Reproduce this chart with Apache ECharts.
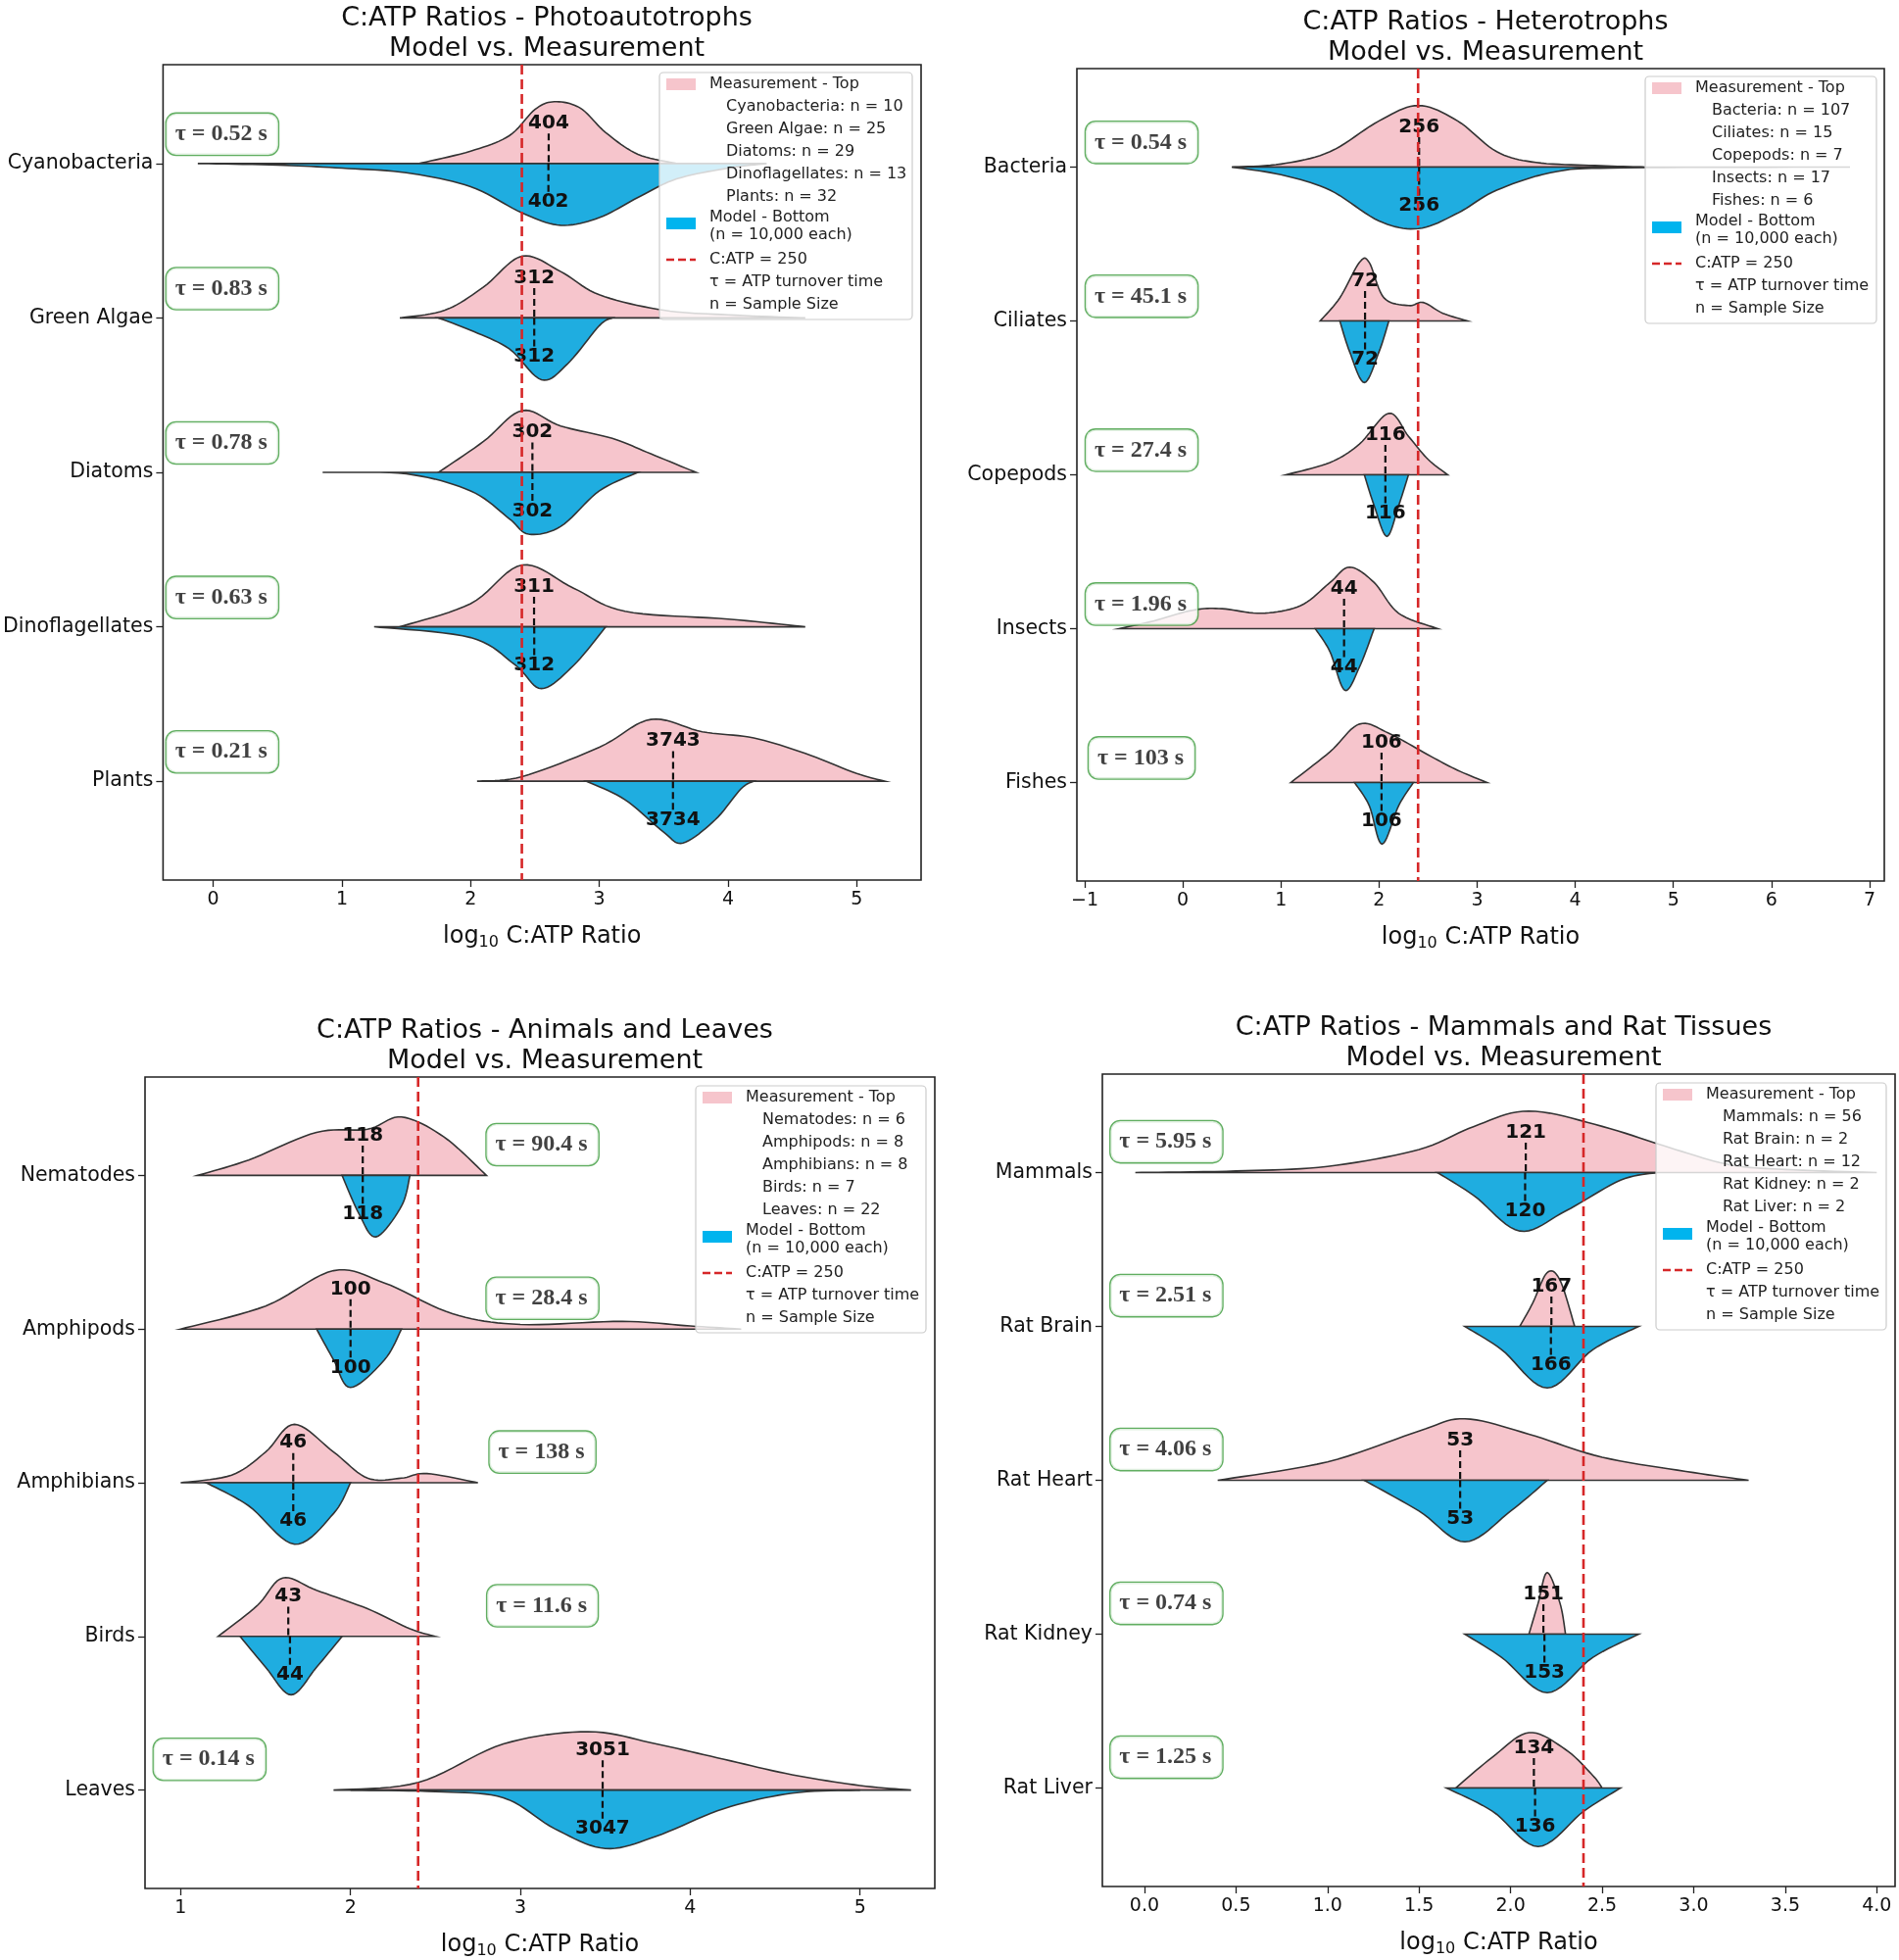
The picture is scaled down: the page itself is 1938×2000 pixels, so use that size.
<!DOCTYPE html>
<html><head><meta charset="utf-8">
<script src="https://cdn.jsdelivr.net/npm/echarts@6/dist/echarts.min.js"></script>
<style>html,body{margin:0;background:#fff}#c{width:1938px;height:2000px}</style>
</head><body><div id="c"></div>
<script>
// ---------- DATA ----------
const p1Cats = ['Cyanobacteria','Green Algae','Diatoms','Dinoflagellates','Plants'];
const p1Tau = ['0.52','0.83','0.78','0.63','0.21'];
const p1MedTop = [404,312,302,311,3743];
const p1MedBot = [402,312,302,312,3734];
const p1N = [10,25,29,13,32];
const p1Top = [
 [[1.6,0],[2.0,0.08],[2.3,0.18],[2.5,0.35],[2.65,0.40],[2.85,0.36],[3.05,0.2],[3.3,0.06],[3.6,0]],
 [[1.45,0],[1.8,0.05],[2.1,0.2],[2.4,0.4],[2.7,0.3],[3.0,0.15],[3.5,0.05],[4.0,0.02],[4.6,0]],
 [[1.75,0],[2.1,0.2],[2.4,0.4],[2.7,0.3],[3.1,0.22],[3.4,0.12],[3.75,0]],
 [[1.45,0],[2.0,0.15],[2.4,0.4],[2.8,0.25],[3.2,0.1],[4.0,0.05],[4.6,0]],
 [[2.05,0],[2.4,0.03],[3.0,0.22],[3.4,0.40],[3.8,0.32],[4.2,0.28],[4.6,0.18],[5.0,0.05],[5.22,0]]
];
const p1Bot = [
 [[-0.12,0],[0.5,0.01],[1.0,0.03],[1.5,0.06],[2.0,0.15],[2.4,0.32],[2.7,0.40],[3.0,0.35],[3.3,0.22],[3.6,0.1],[4.0,0.03],[4.3,0]],
 [[1.75,0],[2.0,0.08],[2.3,0.2],[2.55,0.4],[2.75,0.3],[3.0,0.05],[3.1,0]],
 [[0.85,0],[1.5,0.01],[2.0,0.12],[2.3,0.3],[2.45,0.4],[2.7,0.35],[3.0,0.12],[3.3,0]],
 [[1.25,0],[2.0,0.07],[2.35,0.25],[2.55,0.4],[2.8,0.25],[3.05,0]],
 [[2.9,0],[3.2,0.12],[3.5,0.33],[3.65,0.40],[3.9,0.25],[4.1,0.05],[4.2,0]]
];
const p2Cats = ['Bacteria','Ciliates','Copepods','Insects','Fishes'];
const p2Tau = ['0.54','45.1','27.4','1.96','103'];
const p2MedTop = [256,72,116,44,106];
const p2MedBot = [256,72,116,44,106];
const p2N = [107,15,7,17,6];
const p2Top = [
 [[0.5,0],[1.0,0.02],[1.5,0.1],[2.0,0.3],[2.4,0.4],[2.8,0.3],[3.2,0.1],[3.6,0.03],[4.2,0.01],[4.7,0]],
 [[1.4,0],[1.6,0.15],[1.8,0.38],[1.9,0.38],[2.05,0.15],[2.3,0.1],[2.45,0.12],[2.65,0.05],[2.9,0]],
 [[1.05,0],[1.5,0.08],[1.8,0.2],[2.1,0.4],[2.3,0.25],[2.5,0.1],[2.7,0]],
 [[-0.65,0],[-0.3,0.05],[0.1,0.12],[0.4,0.13],[0.8,0.1],[1.2,0.15],[1.5,0.3],[1.7,0.4],[1.95,0.3],[2.2,0.1],[2.6,0]],
 [[1.1,0],[1.5,0.2],[1.8,0.38],[2.1,0.32],[2.5,0.18],[2.8,0.08],[3.1,0]]
];
const p2Bot = [
 [[0.5,0],[1.0,0.05],[1.5,0.15],[2.0,0.35],[2.4,0.4],[2.8,0.3],[3.2,0.15],[3.8,0.03],[4.5,0.005],[6.8,0]],
 [[1.6,0],[1.7,0.2],[1.85,0.4],[2.0,0.2],[2.1,0]],
 [[1.85,0],[1.95,0.2],[2.08,0.4],[2.2,0.2],[2.3,0]],
 [[1.35,0],[1.5,0.15],[1.65,0.4],[1.8,0.25],[1.95,0]],
 [[1.75,0],[1.9,0.15],[2.03,0.4],[2.2,0.15],[2.35,0]]
];
const p3Cats = ['Nematodes','Amphipods','Amphibians','Birds','Leaves'];
const p3Tau = ['90.4','28.4','138','11.6','0.14'];
const p3MedTop = [118,100,46,43,3051];
const p3MedBot = [118,100,46,44,3047];
const p3N = [6,8,8,7,22];
const p3Top = [
 [[1.1,0],[1.4,0.1],[1.8,0.28],[2.1,0.3],[2.3,0.38],[2.55,0.25],[2.8,0]],
 [[1.0,0],[1.5,0.15],[1.9,0.38],[2.2,0.3],[2.6,0.1],[3.0,0.03],[3.6,0.05],[4.0,0.02],[4.3,0]],
 [[1.0,0],[1.3,0.05],[1.5,0.2],[1.67,0.38],[1.9,0.2],[2.1,0.03],[2.3,0.03],[2.45,0.06],[2.75,0]],
 [[1.22,0],[1.45,0.2],[1.6,0.38],[1.8,0.3],[2.1,0.18],[2.35,0.05],[2.5,0]],
 [[1.9,0],[2.4,0.05],[2.9,0.3],[3.4,0.38],[3.8,0.3],[4.2,0.2],[4.6,0.1],[5.0,0.03],[5.3,0]]
];
const p3Bot = [
 [[1.95,0],[2.05,0.25],[2.15,0.4],[2.3,0.2],[2.35,0]],
 [[1.8,0],[1.9,0.2],[2.0,0.38],[2.2,0.2],[2.3,0]],
 [[1.15,0],[1.4,0.15],[1.67,0.4],[1.9,0.2],[2.0,0]],
 [[1.35,0],[1.5,0.2],[1.65,0.38],[1.8,0.2],[1.95,0]],
 [[2.0,0],[2.5,0.01],[2.9,0.05],[3.2,0.25],[3.5,0.38],[3.8,0.3],[4.2,0.12],[4.6,0.02],[5.0,0]]
];
const p4Cats = ['Mammals','Rat Brain','Rat Heart','Rat Kidney','Rat Liver'];
const p4Tau = ['5.95','2.51','4.06','0.74','1.25'];
const p4MedTop = [121,167,53,151,134];
const p4MedBot = [120,166,53,153,136];
const p4N = [56,2,12,2,2];
const p4Top = [
 [[-0.05,0],[0.5,0.01],[1.0,0.04],[1.5,0.15],[1.8,0.3],[2.1,0.4],[2.5,0.3],[2.9,0.15],[3.2,0.05],[3.5,0.02],[4.0,0]],
 [[2.05,0],[2.12,0.15],[2.2,0.35],[2.27,0.3],[2.35,0]],
 [[0.4,0],[1.0,0.12],[1.5,0.32],[1.75,0.4],[2.1,0.3],[2.5,0.15],[3.0,0.05],[3.3,0]],
 [[2.1,0],[2.15,0.2],[2.2,0.4],[2.27,0.2],[2.3,0]],
 [[1.7,0],[1.9,0.2],[2.1,0.36],[2.3,0.25],[2.45,0.08],[2.5,0]]
];
const p4Bot = [
 [[1.6,0],[1.8,0.15],[2.05,0.38],[2.3,0.25],[2.6,0.05],[2.8,0]],
 [[1.75,0],[1.95,0.15],[2.2,0.4],[2.45,0.15],[2.7,0]],
 [[1.2,0],[1.5,0.2],[1.75,0.4],[2.0,0.2],[2.2,0]],
 [[1.75,0],[1.95,0.15],[2.2,0.38],[2.45,0.15],[2.7,0]],
 [[1.65,0],[1.9,0.15],[2.15,0.38],[2.4,0.15],[2.6,0]]
];
const refRatio = 250;

// ---------- LAYOUT ----------
const panels = [
 {title:'C:ATP Ratios - Photoautotrophs\nModel vs. Measurement', cats:p1Cats,tau:p1Tau,mt:p1MedTop,mb:p1MedBot,n:p1N,top:p1Top,bot:p1Bot,
  grid:{left:166,top:66,width:774,height:832}, xmin:-0.39,xmax:5.5, ticks:[0,1,2,3,4,5], dec:0, tauX:[0.07,0.07,0.07,0.07,0.07], tauDy:-0.19, leg:{x:673,y:74}},
 {title:'C:ATP Ratios - Heterotrophs\nModel vs. Measurement', cats:p2Cats,tau:p2Tau,mt:p2MedTop,mb:p2MedBot,n:p2N,top:p2Top,bot:p2Bot,
  grid:{left:1099,top:70,width:824,height:829}, xmin:-1.08,xmax:7.15, ticks:[-1,0,1,2,3,4,5,6,7], dec:0, tauX:[-0.42,-0.42,-0.42,-0.42,-0.42], tauDy:-0.16, leg:{x:1679,y:78}},
 {title:'C:ATP Ratios - Animals and Leaves\nModel vs. Measurement', cats:p3Cats,tau:p3Tau,mt:p3MedTop,mb:p3MedBot,n:p3N,top:p3Top,bot:p3Bot,
  grid:{left:148,top:1099,width:806,height:830}, xmin:0.79,xmax:5.44, ticks:[1,2,3,4,5], dec:0, tauX:[3.13,3.13,3.13,3.13,1.17], tauDy:-0.2, leg:{x:710,y:1108}},
 {title:'C:ATP Ratios - Mammals and Rat Tissues\nModel vs. Measurement', cats:p4Cats,tau:p4Tau,mt:p4MedTop,mb:p4MedBot,n:p4N,top:p4Top,bot:p4Bot,
  grid:{left:1125,top:1096,width:809,height:829}, xmin:-0.23,xmax:4.1, ticks:[0,0.5,1,1.5,2,2.5,3,3.5,4], dec:1, tauX:[0.12,0.12,0.12,0.12,0.12], tauDy:-0.2, leg:{x:1690,y:1105}}
];
const PINK='#f6c5cc', BLUE='#1fade0', EDGE='#333';
const YMIN=-0.64, YMAX=4.64;

function spline(pts){
  const out=[];
  for(let i=0;i<pts.length-1;i++){
    const p0=pts[Math.max(0,i-1)],p1=pts[i],p2=pts[i+1],p3=pts[Math.min(pts.length-1,i+2)];
    for(let t=0;t<1;t+=0.1){
      const t2=t*t,t3=t2*t;
      const f=(a,b,c,d)=>0.5*((2*b)+(-a+c)*t+(2*a-5*b+4*c-d)*t2+(-a+3*b-3*c+d)*t3);
      out.push([f(p0[0],p1[0],p2[0],p3[0]), Math.max(0,f(p0[1],p1[1],p2[1],p3[1]))]);
    }
  }
  out.push(pts[pts.length-1]);
  return out;
}

const option={animation:false,title:[],grid:[],xAxis:[],yAxis:[],series:[],graphic:[]};
panels.forEach((P,k)=>{
  const g=P.grid;
  option.title.push({text:P.title,left:g.left+g.width/2,top:g.top-68,textAlign:'center',
    textStyle:{fontFamily:'DejaVu Sans',fontWeight:'normal',fontSize:27,lineHeight:31,color:'#111'}});
  option.grid.push({left:g.left,top:g.top,width:g.width,height:g.height,show:true,borderColor:'#222',borderWidth:1.6,backgroundColor:'#fff'});
  option.xAxis.push({type:'value',gridIndex:k,min:P.xmin,max:P.xmax,position:'bottom',
    name:'{a|log}{s|10}{a| C:ATP Ratio}',nameLocation:'middle',nameGap:44,
    nameTextStyle:{rich:{a:{fontFamily:'DejaVu Sans',fontSize:24,color:'#111'},s:{fontFamily:'DejaVu Sans',fontSize:16,color:'#111',verticalAlign:'bottom',padding:[12,0,0,0]}}},
    splitLine:{show:false},axisLine:{show:false,onZero:false},
    axisTick:{show:true,customValues:P.ticks,length:7,lineStyle:{color:'#222',width:1.3}},
    axisLabel:{customValues:P.ticks,fontFamily:'DejaVu Sans',fontSize:19,color:'#111',margin:11,
      formatter:v=>(v<0?'\u2212':'')+Math.abs(v).toFixed(P.dec)}});
  option.yAxis.push({type:'value',gridIndex:k,min:YMIN,max:YMAX,inverse:true,position:'left',
    splitLine:{show:false},axisLine:{show:false,onZero:false},
    axisTick:{show:true,customValues:[0,1,2,3,4],length:7,lineStyle:{color:'#222',width:1.3}},
    axisLabel:{customValues:[0,1,2,3,4],fontFamily:'DejaVu Sans',fontSize:20.5,color:'#111',margin:10,
      formatter:v=>P.cats[Math.round(v)]}});
  option.series.push({type:'custom',xAxisIndex:k,yAxisIndex:k,z:3,data:P.cats.map((c,i)=>[i]),
    renderItem:(params,api)=>{
      const i=api.value(0);
      const topPts=spline(P.top[i]).map(p=>api.coord([p[0],i-p[1]]));
      const botPts=spline(P.bot[i]).map(p=>api.coord([p[0],i+p[1]]));
      const mt=Math.log10(P.mt[i]), mb=Math.log10(P.mb[i]);
      const a=api.coord([mt,i-0.27]), b=api.coord([mt,i]), c=api.coord([mb,i]), d=api.coord([mb,i+0.27]);
      const lt=api.coord([mt,i-0.26]), lb=api.coord([mb,i+0.25]);
      return {type:'group',children:[
        {type:'polygon',shape:{points:topPts},style:{fill:PINK,stroke:EDGE,lineWidth:1.6}},
        {type:'polygon',shape:{points:botPts},style:{fill:BLUE,stroke:EDGE,lineWidth:1.6}},
        {type:'line',shape:{x1:a[0],y1:a[1]+12,x2:b[0],y2:b[1]},style:{stroke:'#111',lineWidth:2.2,lineDash:[7,4]}},
        {type:'line',shape:{x1:c[0],y1:c[1],x2:d[0],y2:d[1]-12},style:{stroke:'#111',lineWidth:2.2,lineDash:[7,4]}},
        {type:'text',x:lt[0],y:lt[1],style:{text:String(P.mt[i]),fontFamily:'DejaVu Sans',fontWeight:'bold',fontSize:20,fill:'#111',align:'center',verticalAlign:'middle'}},
        {type:'text',x:lb[0],y:lb[1],style:{text:String(P.mb[i]),fontFamily:'DejaVu Sans',fontWeight:'bold',fontSize:20,fill:'#111',align:'center',verticalAlign:'middle'}}
      ]};
    }});
  option.series.push({type:'line',xAxisIndex:k,yAxisIndex:k,z:4,symbol:'none',
    data:[[Math.log10(refRatio),YMIN],[Math.log10(refRatio),YMAX]],lineStyle:{color:'#d62728',width:2.6,type:[10,5]}});
  option.series.push({type:'scatter',xAxisIndex:k,yAxisIndex:k,z:6,symbolSize:1,itemStyle:{color:'rgba(0,0,0,0)'},
    data:P.tau.map((t,i)=>({value:[P.tauX[i],i+P.tauDy],name:t})),
    label:{show:true,position:'inside',formatter:p=>'\u03c4 = '+p.name+' s',fontFamily:'Liberation Serif',fontWeight:'bold',fontSize:24,color:'#111',
      backgroundColor:'#fff',borderColor:'#3a9a3a',borderWidth:1.3,borderRadius:10,padding:[10,11,8,9]}});
  const L=P.leg, lh=23, items=[];
  let y=L.y+12;
  const T=(tx,x,yy)=>({type:'text',x:x,y:yy,style:{text:tx,fontFamily:'DejaVu Sans',fontSize:16,fill:'#222',verticalAlign:'middle'}});
  items.push({type:'rect',shape:{x:L.x+7,y:y-6,width:30,height:12},style:{fill:PINK}});
  items.push(T('Measurement - Top',L.x+51,y)); y+=lh;
  P.cats.forEach((c,i)=>{items.push(T(c+': n = '+P.n[i],L.x+68,y)); y+=lh;});
  items.push({type:'rect',shape:{x:L.x+7,y:y-2,width:30,height:12},style:{fill:'#00b4ee'}});
  items.push(T('Model - Bottom',L.x+51,y-2)); y+=18;
  items.push(T('(n = 10,000 each)',L.x+51,y-2)); y+=lh;
  items.push({type:'line',shape:{x1:L.x+7,y1:y,x2:L.x+37,y2:y},style:{stroke:'#d62728',lineWidth:2.6,lineDash:[8,4]}});
  items.push(T('C:ATP = 250',L.x+51,y)); y+=lh;
  items.push(T('\u03c4 = ATP turnover time',L.x+51,y)); y+=lh;
  items.push(T('n = Sample Size',L.x+51,y)); y+=lh;
  const w=(k===1?236:(k===0?258:235));
  option.graphic.push({type:'rect',z:10,shape:{x:L.x,y:L.y,width:w,height:y-L.y-8,r:4},style:{fill:'rgba(255,255,255,0.8)',stroke:'#ccc',lineWidth:1.2}});
  items.forEach(it=>{it.z=11;option.graphic.push(it);});
});
echarts.init(document.getElementById('c')).setOption(option);
</script></body></html>
